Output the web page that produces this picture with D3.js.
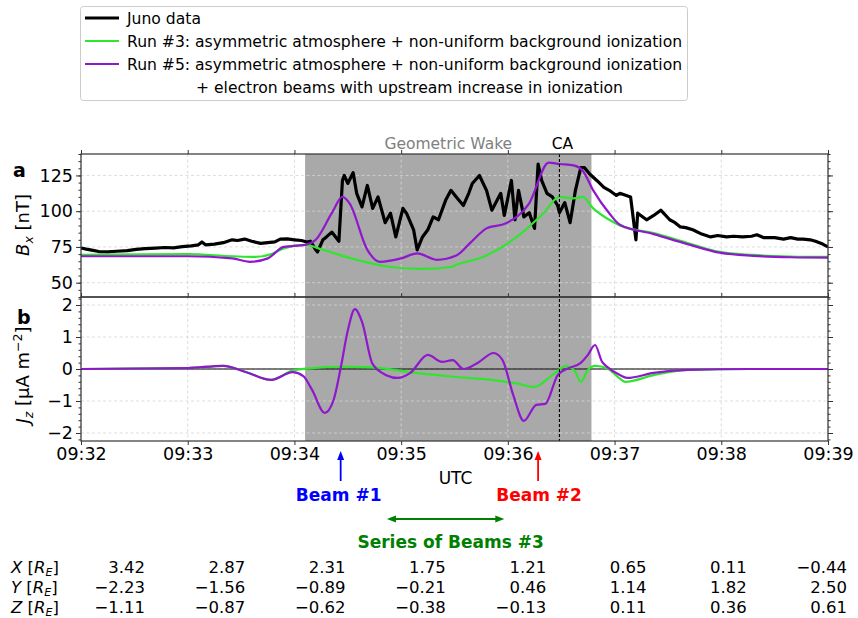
<!DOCTYPE html>
<html>
<head>
<meta charset="utf-8">
<script src="https://cdn.jsdelivr.net/npm/d3@7"></script>
<style>
  body { margin: 0; background: #fff; }
  text { font-family: "DejaVu Sans", sans-serif; }
</style>
</head>
<body>
<svg id="chart" width="858" height="618"></svg>
<script>
// ---- values (time = seconds after 09:32:00) ----
var tickLabels = ["09:32", "09:33", "09:34", "09:35", "09:36", "09:37", "09:38", "09:39"];

var junoSec = [0,3,6,10,15,20,26,31,36,42,47,52,57,62,66,68,70,75,80,85,
  88,92,96,101,105,109,112,116,120,124,127,129,132,133,136,138,
  141,145,147,148,150,153,155,158,161,164,167,171,174,177,181,183,187,189,192,195,
  198,201,205,208,211,215,218,220,224,228,231,236,238,242,244,246,249,252,255,257,
  259,262,265,268,269,272,275,278,281,283,286,290,294,297,301,303,309,
  312,313,318,322,326,331,334,337,340,344,349,354,358,363,367,372,377,380,384,390,
  395,399,403,406,410,413,417,420];
var junoBx = [74.3,73.5,72.8,71.8,71.6,72,72.4,73.3,73.8,74.2,74.6,74.4,75.2,75.8,76.5,78.5,76.5,77,78,80,
  79.5,80.5,79,77.5,78,78.5,80.5,80.6,80,79.5,78.5,79,73,71.5,80,82,
  85.4,79,121.5,125,119.4,127,112.5,103,118,102,110,92,98.6,82,102,98.6,87,73,82,87,
  96,94,107.6,114.6,110,104,112.5,119.4,125,114.6,100.7,112.5,97,121.5,94,114.6,96,99,88,133,
  121.5,112.5,110,104,99,106,92,114.6,130.5,130.5,126,121.5,116.6,114.6,111,112.5,110,
  80,98.6,94,97,100.7,94,92,89,88.5,87,84,82,83,82,82.5,82,82.5,83.5,81.5,81.5,
  80.5,81.5,80.5,80.5,80,79,77,75];

var run3Sec = [0,60,85,98,107,114,126,136,155,174,192,208,211,226,245,260,269,277,282,288,297,303,322,341,359,378,399,420];
var run3Bx = [69.5,70,68.5,68,70,74,76.4,73,66,61,59.7,61,62.5,68,82,98.6,110,109,110,102,94,90,84.7,77.8,71.5,69.4,68.3,68];

var run5Sec = [0,60,85,95,105,114,126,132,141,147,151,161,168,180,189,200,211,219,228,239,252,263,269,277,282,288,297,303,322,341,359,378,399,420];
var run5Bx = [68.5,68.5,67,64.6,67,75,76.4,80,98.6,110,105.5,73,64.6,67,70.5,66,69,78,88,91.6,105.5,134,133,132,128.5,114.6,98.6,90.5,84,77,71,68.8,67.8,67.5];

var run3JzSec = [0,60,80,93,107,119,130,146,160,168,185,211,231,245,255,265,273,278,281,285,289,296,303,306,322,341,376,420];
var run3Jz = [0,0.03,0.1,-0.1,-0.34,-0.05,0.03,0.07,0.06,0.03,-0.1,-0.25,-0.34,-0.45,-0.56,-0.19,0.1,-0.1,-0.4,-0.03,0.1,0.02,-0.3,-0.4,-0.19,-0.03,0,0];

var run5JzSec = [0,60,80,93,107,119,125,130,137,142,146,150,154,158,164,172,178,185,195,203,
  209,215,223,232,237,243,249,256,261,268,273,281,285,289,293,296,303,307,322,341,376,420];
var run5Jz = [0,0.03,0.1,-0.1,-0.34,-0.1,-0.22,-0.66,-1.37,-0.97,0.03,1.2,1.87,1.47,0.15,-0.2,-0.28,-0.13,0.44,0.22,
  0.28,0,0.19,0.5,0.28,-0.81,-1.62,-1.12,-1.09,-0.19,0,0.19,0.44,0.75,0.22,0.06,-0.19,-0.28,-0.12,-0.03,0,0];

var wakeTimes = ["09:34:06", "09:36:47"];
var caTime = "09:36:29";
var beam1Time = "09:34:26", beam2Time = "09:36:17";
var series3Times = ["09:34:52", "09:35:58"];

var tableNames = ["X", "Y", "Z"];
var xVals = [3.42, 2.87, 2.31, 1.75, 1.21, 0.65, 0.11, -0.44];
var yVals = [-2.23, -1.56, -0.89, -0.21, 0.46, 1.14, 1.82, 2.50];
var zVals = [-1.11, -0.87, -0.62, -0.38, -0.13, 0.11, 0.36, 0.61];

var legendLabels = ["Juno data",
  "Run #3: asymmetric atmosphere + non-uniform background ionization",
  "Run #5: asymmetric atmosphere + non-uniform background ionization"];
var legendExtra = "+ electron beams with upstream increase in ionization";

// ---- layout ----
var left = 81, right = 828,
    aTop = 154, aBot = 297,
    bTop = 297, bBot = 441;
var colJuno = "#000000", colRun3 = "#2fe62f", colRun5 = "#8f17cc";

var svg = d3.select("#chart");
var parseT = d3.timeParse("%H:%M"),
    parseS = d3.timeParse("%H:%M:%S");
var t0 = parseT(tickLabels[0]);
function at(s) { return d3.timeSecond.offset(t0, s); }
var tickTimes = tickLabels.map(parseT);

var x = d3.scaleTime().domain([t0, tickTimes[tickTimes.length - 1]]).range([left, right]);
var yA = d3.scaleLinear().domain([40, 140]).range([aBot, aTop]);
var yB = d3.scaleLinear().domain([-2.25, 2.25]).range([bBot, bTop]);

function series(secs, vals) {
  return secs.map(function(s, i) { return {t: at(s), v: vals[i]}; });
}

// grey wake span
svg.append("rect")
  .attr("x", x(parseS(wakeTimes[0])))
  .attr("y", aTop)
  .attr("width", x(parseS(wakeTimes[1])) - x(parseS(wakeTimes[0])))
  .attr("height", bBot - aTop)
  .attr("fill", "#a9a9a9");

// grid
function grid(yScale, yTicks, top, bot) {
  var g = svg.append("g").attr("stroke", "#d4d4d4").attr("stroke-width", 0.8)
    .attr("stroke-dasharray", "3,2.5");
  g.selectAll("line.v").data(tickTimes).enter().append("line")
    .attr("x1", function(d) { return x(d); }).attr("x2", function(d) { return x(d); })
    .attr("y1", top).attr("y2", bot);
  g.selectAll("line.h").data(yTicks).enter().append("line")
    .attr("x1", left).attr("x2", right)
    .attr("y1", function(d) { return yScale(d); }).attr("y2", function(d) { return yScale(d); });
}
var aTicks = [50, 75, 100, 125], bTicks = [-2, -1, 0, 1, 2];
grid(yA, aTicks, aTop, aBot);
grid(yB, bTicks, bTop, bBot);

// zero line in panel b
svg.append("line").attr("x1", left).attr("x2", right)
  .attr("y1", yB(0)).attr("y2", yB(0)).attr("stroke", "#000").attr("stroke-width", 1);

// clip paths
var defs = svg.append("defs");
defs.append("clipPath").attr("id", "clipA").append("rect")
  .attr("x", left).attr("y", aTop).attr("width", right - left).attr("height", aBot - aTop);
defs.append("clipPath").attr("id", "clipB").append("rect")
  .attr("x", left).attr("y", bTop).attr("width", right - left).attr("height", bBot - bTop);

var lineA = d3.line().x(function(d) { return x(d.t); }).y(function(d) { return yA(d.v); });
var smoothA = d3.line().x(function(d) { return x(d.t); }).y(function(d) { return yA(d.v); }).curve(d3.curveMonotoneX);
var smoothB = d3.line().x(function(d) { return x(d.t); }).y(function(d) { return yB(d.v); }).curve(d3.curveMonotoneX);

var gA = svg.append("g").attr("clip-path", "url(#clipA)");
gA.append("path").datum(series(junoSec, junoBx)).attr("d", lineA)
  .attr("fill", "none").attr("stroke", colJuno).attr("stroke-width", 3.2).attr("stroke-linejoin", "round");
gA.append("path").datum(series(run3Sec, run3Bx)).attr("d", smoothA)
  .attr("fill", "none").attr("stroke", colRun3).attr("stroke-width", 2.2);
gA.append("path").datum(series(run5Sec, run5Bx)).attr("d", smoothA)
  .attr("fill", "none").attr("stroke", colRun5).attr("stroke-width", 2.2);

var gB = svg.append("g").attr("clip-path", "url(#clipB)");
gB.append("path").datum(series(run3JzSec, run3Jz)).attr("d", smoothB)
  .attr("fill", "none").attr("stroke", colRun3).attr("stroke-width", 2.2);
gB.append("path").datum(series(run5JzSec, run5Jz)).attr("d", smoothB)
  .attr("fill", "none").attr("stroke", colRun5).attr("stroke-width", 2.2);

// closest approach
svg.append("line").attr("x1", x(parseS(caTime))).attr("x2", x(parseS(caTime)))
  .attr("y1", aTop).attr("y2", bBot)
  .attr("stroke", "#000").attr("stroke-width", 1.1).attr("stroke-dasharray", "3,2");

// axes
function yAxes(yScale, major, minor, top, bot) {
  var l = svg.append("g").attr("transform", "translate(" + left + ",0)")
    .call(d3.axisLeft(yScale).tickValues(major).tickSize(5).tickPadding(3).tickFormat(d3.format("d")));
  l.selectAll("text").style("font-size", "17.5px").attr("fill", "#000");
  svg.append("g").attr("transform", "translate(" + left + ",0)")
    .call(d3.axisLeft(yScale).tickValues(minor).tickSize(2.5).tickFormat(""));
  svg.append("g").attr("transform", "translate(" + right + ",0)")
    .call(d3.axisRight(yScale).tickValues(major).tickSize(5).tickFormat(""));
  svg.append("g").attr("transform", "translate(" + right + ",0)")
    .call(d3.axisRight(yScale).tickValues(minor).tickSize(2.5).tickFormat(""));
  svg.append("rect").attr("x", left).attr("y", top).attr("width", right - left).attr("height", bot - top)
    .attr("fill", "none").attr("stroke", "#333").attr("stroke-width", 1.2);
}
yAxes(yA, aTicks, d3.range(40, 141, 5), aTop, aBot);
yAxes(yB, bTicks, d3.range(-22, 23, 2).map(function(d) { return d / 10; }), bTop, bBot);

svg.append("g").attr("transform", "translate(0," + aTop + ")")
  .call(d3.axisTop(x).tickValues(tickTimes).tickSize(4).tickFormat(""));
svg.append("g").attr("transform", "translate(0," + bTop + ")")
  .call(d3.axisTop(x).tickValues(tickTimes).tickSize(4).tickFormat(""));
var xb = svg.append("g").attr("transform", "translate(0," + bBot + ")")
  .call(d3.axisBottom(x).tickValues(tickTimes).tickSize(4).tickPadding(3).tickFormat(d3.timeFormat("%H:%M")));
xb.selectAll("text").style("font-size", "17.5px").attr("fill", "#000");
svg.selectAll(".domain").remove();
svg.selectAll(".tick line").attr("stroke", "#333");

// panel letters and axis titles
svg.append("text").attr("x", 13).attr("y", 177).text("a")
  .style("font-size", "19px").style("font-weight", "bold");
svg.append("text").attr("x", 17).attr("y", 324).text("b")
  .style("font-size", "19px").style("font-weight", "bold");

var la = svg.append("text").attr("transform", "translate(29,225) rotate(-90)")
  .attr("text-anchor", "middle").style("font-size", "18px");
la.append("tspan").text("B").style("font-style", "italic");
la.append("tspan").text("x").style("font-style", "italic").style("font-size", "12.5px").attr("dy", 4);
la.append("tspan").text(" [nT]").attr("dy", -4);

var lb = svg.append("text").attr("transform", "translate(29,375) rotate(-90)")
  .attr("text-anchor", "middle").style("font-size", "18px");
lb.append("tspan").text("J").style("font-style", "italic");
lb.append("tspan").text("z").style("font-style", "italic").style("font-size", "12.5px").attr("dy", 4);
lb.append("tspan").text(" [μA m").attr("dy", -4);
lb.append("tspan").text("−2").style("font-size", "12.5px").attr("dy", -7);
lb.append("tspan").text("]").attr("dy", 7);

svg.append("text").attr("x", (x(parseS(wakeTimes[0])) + x(parseS(wakeTimes[1]))) / 2).attr("y", 149)
  .attr("text-anchor", "middle").attr("fill", "#808080").style("font-size", "15.5px").text("Geometric Wake");
svg.append("text").attr("x", x(parseS(caTime)) + 3).attr("y", 149)
  .attr("text-anchor", "middle").style("font-size", "15.5px").text("CA");

svg.append("text").attr("x", (left + right) / 2 + 1).attr("y", 484)
  .attr("text-anchor", "middle").style("font-size", "17px").text("UTC");

// beam annotations
function upArrow(xp, color) {
  svg.append("line").attr("x1", xp).attr("x2", xp).attr("y1", 481).attr("y2", 458)
    .attr("stroke", color).attr("stroke-width", 1.8);
  svg.append("path").attr("d", "M" + xp + ",451 L" + (xp - 3.5) + ",460 L" + (xp + 3.5) + ",460 Z")
    .attr("fill", color);
}
var b1 = x(parseS(beam1Time)), b2 = x(parseS(beam2Time));
upArrow(b1, "#0000ff");
upArrow(b2, "#ff0000");
svg.append("text").attr("x", b1 - 2).attr("y", 501).attr("text-anchor", "middle")
  .attr("fill", "#0000ff").style("font-size", "17px").style("font-weight", "bold").text("Beam #1");
svg.append("text").attr("x", b2 + 1).attr("y", 501).attr("text-anchor", "middle")
  .attr("fill", "#ff0000").style("font-size", "17px").style("font-weight", "bold").text("Beam #2");

var s1 = x(parseS(series3Times[0])), s2 = x(parseS(series3Times[1]));
svg.append("line").attr("x1", s1 + 6).attr("x2", s2 - 6).attr("y1", 519).attr("y2", 519)
  .attr("stroke", "#008000").attr("stroke-width", 1.8);
svg.append("path").attr("d", "M" + s1 + ",519 L" + (s1 + 9) + ",515.5 L" + (s1 + 9) + ",522.5 Z").attr("fill", "#008000");
svg.append("path").attr("d", "M" + s2 + ",519 L" + (s2 - 9) + ",515.5 L" + (s2 - 9) + ",522.5 Z").attr("fill", "#008000");
svg.append("text").attr("x", (s1 + s2) / 2 + 5).attr("y", 548).attr("text-anchor", "middle")
  .attr("fill", "#008000").style("font-size", "17px").style("font-weight", "bold").text("Series of Beams #3");

// position table
var fmt = d3.format(".2f");
var colX = d3.scaleLinear().domain([0, 7]).range([145, 847]);
[xVals, yVals, zVals].forEach(function(vals, r) {
  var yy = 573 + r * 20;
  var lab = svg.append("text").attr("x", 11).attr("y", yy).style("font-size", "16.5px");
  lab.append("tspan").text(tableNames[r]).style("font-style", "italic");
  lab.append("tspan").text(" [");
  lab.append("tspan").text("R").style("font-style", "italic");
  lab.append("tspan").text("E").style("font-style", "italic").style("font-size", "11px").attr("dy", 2.5);
  lab.append("tspan").text("]").attr("dy", -2.5);
  svg.selectAll(null).data(vals).enter().append("text")
    .attr("x", function(d, i) { return colX(i); })
    .attr("y", yy).attr("text-anchor", "end").style("font-size", "16.5px")
    .text(function(d) { return fmt(d); });
});

// legend
var lg = svg.append("g");
lg.append("rect").attr("x", 80.5).attr("y", 6.5).attr("width", 607).attr("height", 94).attr("rx", 3)
  .attr("fill", "#fff").attr("stroke", "#cccccc");
var legCols = [colJuno, colRun3, colRun5];
legendLabels.forEach(function(lbl, i) {
  var yy = 18 + i * 23;
  lg.append("line").attr("x1", 85).attr("x2", 119).attr("y1", yy).attr("y2", yy)
    .attr("stroke", legCols[i]).attr("stroke-width", i === 0 ? 3.2 : 2.2);
  lg.append("text").attr("x", 127).attr("y", yy + 5.5).style("font-size", "15.6px").text(lbl);
});
lg.append("text").attr("x", 196).attr("y", 92.5).style("font-size", "15.6px").text(legendExtra);
</script>
</body>
</html>
